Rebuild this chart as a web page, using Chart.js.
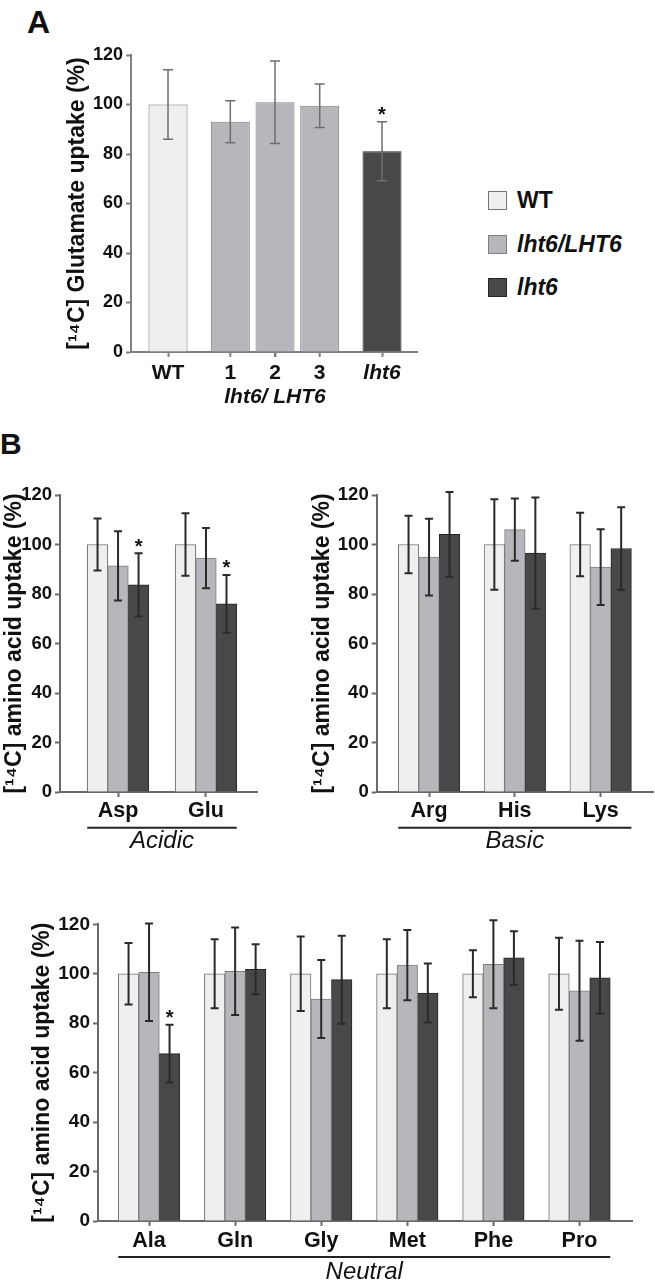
<!DOCTYPE html>
<html>
<head>
<meta charset="utf-8">
<title>Amino acid uptake</title>
<script src="https://cdn.jsdelivr.net/npm/chart.js@4.4.1/dist/chart.umd.min.js"></script>
<style>
  body { margin: 0; background: #fff; }
  #page { position: relative; width: 655px; height: 1280px; overflow: hidden;
          font-family: "Liberation Sans", Arial, Helvetica, sans-serif; color: #111; }
  canvas { position: absolute; }
  .panel { position: absolute; font-weight: bold; line-height: 1; }
  .legend { position: absolute; left: 488px; top: 179px; }
  .legend .row { display: flex; align-items: center; height: 43.5px; font-size: 23px; font-weight: bold; }
  .legend .box { width: 17px; height: 17px; margin-right: 10px; border: 1px solid; }
</style>
</head>
<body>
<div id="page">
  <div class="panel" style="left:27px; top:6px; font-size:32px;">A</div>
  <div class="panel" style="left:0px; top:429px; font-size:30px;">B</div>

  <canvas id="chartA" width="440" height="420" style="left:0; top:0;"></canvas>
  <div class="legend" id="legend"></div>

  <canvas id="chartAcidic" width="300" height="410" style="left:0; top:460px;"></canvas>
  <canvas id="chartBasic" width="355" height="410" style="left:300px; top:460px;"></canvas>
  <canvas id="chartNeutral" width="655" height="390" style="left:0; top:890px;"></canvas>
</div>

<script>
// ---- data ----
const genotypes = ['WT', 'lht6/LHT6', 'lht6'];

// A: glutamate uptake, WT, three complemented lines, mutant
const groupsA = ['WT', 'lht6/ LHT6', 'lht6'];
const linesA = ['WT', '1', '2', '3', 'lht6'];
const lineGroupA = [0, 1, 1, 1, 2];
const glutamate = [100, 93.0, 100.9, 99.5, 81.1];
const glutamateSd = [14.0, 8.5, 16.7, 8.8, 11.9];
const glutamateSig = [false, false, false, false, true];

// B: acidic
const acidic = ['Asp', 'Glu'];
const acidicWT = [100, 100];
const acidicWTSd = [10.5, 12.6];
const acidicComp = [91.4, 94.5];
const acidicCompSd = [14.0, 12.2];
const acidicMut = [83.7, 76.0];
const acidicMutSd = [12.8, 11.7];
const acidicSig = [true, true];

// B: basic
const basic = ['Arg', 'His', 'Lys'];
const basicWT = [100, 100, 100];
const basicWTSd = [11.6, 18.3, 12.8];
const basicComp = [94.9, 106.0, 90.9];
const basicCompSd = [15.5, 12.6, 15.3];
const basicMut = [104.1, 96.5, 98.4];
const basicMutSd = [17.1, 22.5, 16.7];
const basicSig = [false, false, false];

// B: neutral
const neutral = ['Ala', 'Gln', 'Gly', 'Met', 'Phe', 'Pro'];
const neutralWT = [100, 100, 100, 100, 100, 100];
const neutralWTSd = [12.4, 14.0, 15.1, 14.0, 9.5, 14.6];
const neutralComp = [100.6, 101.0, 89.8, 103.5, 103.8, 93.1];
const neutralCompSd = [19.7, 17.7, 15.8, 14.2, 17.8, 20.2];
const neutralMut = [67.7, 101.8, 97.6, 92.2, 106.4, 98.3];
const neutralMutSd = [11.7, 10.1, 17.8, 11.9, 10.8, 14.5];
const neutralSig = [true, false, false, false, false, false];

const yTicks = [0, 20, 40, 60, 80, 100, 120];

// ---- look ----
const FONT = '"Liberation Sans", Arial, Helvetica, sans-serif';
const fills = ['#efeff0', '#b6b7ba', '#48484b'];
const edges = ['#737373', '#7e7e7e', '#262626'];

Chart.defaults.font.family = FONT;
Chart.defaults.color = '#111';

// legend (html)
var legendEl = document.getElementById('legend');
genotypes.forEach(function (g, i) {
  var row = document.createElement('div');
  row.className = 'row';
  row.innerHTML = '<span class="box" style="background:' + fills[i] + ';border-color:' + edges[i] + '"></span>' +
    '<span style="font-style:' + (i === 0 ? 'normal' : 'italic') + '">' + g + '</span>';
  legendEl.appendChild(row);
});

// category scale with less than half a category of slack at the ends
function padCategories(left, right) {
  return function (scale) {
    scale._startValue = -left;
    scale._valueRange = scale.ticks.length - 1 + left + right;
  };
}

const errorBars = {
  id: 'errorBars',
  afterDatasetsDraw(chart, args, opts) {
    const ctx = chart.ctx;
    const y = chart.scales.y;
    ctx.save();
    chart.data.datasets.forEach(function (ds, i) {
      chart.getDatasetMeta(i).data.forEach(function (bar, j) {
        const v = ds.data[j];
        if (v === null || v === undefined) return;
        const top = y.getPixelForValue(v + ds.errors[j]);
        const bot = y.getPixelForValue(v - ds.errors[j]);
        ctx.strokeStyle = opts.color;
        ctx.lineWidth = opts.width;
        ctx.beginPath();
        ctx.moveTo(bar.x, top); ctx.lineTo(bar.x, bot);
        ctx.moveTo(bar.x - opts.cap, top); ctx.lineTo(bar.x + opts.cap, top);
        ctx.moveTo(bar.x - opts.cap, bot); ctx.lineTo(bar.x + opts.cap, bot);
        ctx.stroke();
        if (ds.stars && ds.stars[j]) {
          ctx.fillStyle = '#111';
          ctx.font = 'bold 20px ' + FONT;
          ctx.textAlign = 'center';
          ctx.textBaseline = 'alphabetic';
          ctx.fillText('*', bar.x, top - 0.5);
        }
      });
    });
    ctx.restore();
  }
};

// underline + italic class name under the B charts
const groupLabel = {
  id: 'groupLabel',
  afterDraw(chart, args, opts) {
    if (!opts.text) return;
    const ctx = chart.ctx;
    const n = chart.data.datasets.length;
    const first = chart.getDatasetMeta(0).data[0];
    const lastBars = chart.getDatasetMeta(n - 1).data;
    const last = lastBars[lastBars.length - 1];
    const x0 = first.x - first.width / 2;
    const x1 = last.x + last.width / 2;
    const b = chart.chartArea.bottom;
    ctx.save();
    ctx.strokeStyle = '#222';
    ctx.lineWidth = 2;
    ctx.beginPath();
    ctx.moveTo(x0, b + opts.lineGap); ctx.lineTo(x1, b + opts.lineGap);
    ctx.stroke();
    ctx.fillStyle = '#111';
    ctx.font = 'italic 24px ' + FONT;
    ctx.textAlign = 'center';
    ctx.textBaseline = 'middle';
    ctx.fillText(opts.text, (x0 + x1) / 2, b + opts.textGap);
    ctx.restore();
  }
};

// line numbers 1-3 under the complemented bars of A
const lineTicks = {
  id: 'lineTicks',
  afterDraw(chart, args, opts) {
    const ctx = chart.ctx;
    const b = chart.chartArea.bottom;
    ctx.save();
    ctx.fillStyle = '#111';
    ctx.textAlign = 'center';
    ctx.textBaseline = 'middle';
    chart.data.datasets.forEach(function (ds, i) {
      if (!ds.tickLabel) return;
      const bar = chart.getDatasetMeta(i).data[lineGroupA[i]];
      ctx.strokeStyle = opts.color;
      ctx.lineWidth = 2;
      ctx.beginPath();
      ctx.moveTo(bar.x, b); ctx.lineTo(bar.x, b + 5);
      ctx.stroke();
      ctx.font = 'bold 21px ' + FONT;
      ctx.fillText(ds.tickLabel, bar.x, b + 21.5);
    });
    ctx.font = 'italic bold 21px ' + FONT;
    ctx.fillText(groupsA[1], chart.scales.x.getPixelForValue(1), b + 45);
    ctx.restore();
  }
};

function makeOptions(c) {
  return {
    responsive: false,
    animation: false,
    devicePixelRatio: 1,
    layout: { padding: { top: c.top, right: c.right, left: 0, bottom: 0 } },
    plugins: {
      legend: { display: false },
      tooltip: { enabled: false },
      errorBars: { color: c.errColor, width: c.errWidth, cap: c.cap },
      groupLabel: { text: c.group, lineGap: c.lineGap, textGap: c.textGap },
      lineTicks: { color: c.axis }
    },
    scales: {
      x: {
        offset: true,
        grid: { display: true, drawOnChartArea: false, offset: false, tickLength: 5,
                color: c.axis, tickColor: c.axis, tickWidth: 2 },
        border: { display: true, color: c.axis, width: 2 },
        ticks: { font: { size: c.xFont, weight: 'bold' }, color: '#111', padding: c.xPad,
                 maxRotation: 0, autoSkip: false },
        afterFit: function (s) { s.height = c.xHeight; },
        afterBuildTicks: padCategories(c.padL, c.padR)
      },
      y: {
        min: 0,
        max: 120,
        afterBuildTicks: function (s) { s.ticks = yTicks.map(function (v) { return { value: v }; }); },
        grid: { display: true, drawOnChartArea: false, tickLength: 5,
                color: c.axis, tickColor: c.axis, tickWidth: 2 },
        border: { display: true, color: c.axis, width: 2 },
        ticks: { font: { size: c.yFont, weight: 'bold' }, color: '#111', padding: 3 },
        title: { display: true, text: c.title, color: '#111',
                 font: { size: 23, weight: 'bold' }, padding: { top: c.titlePad, bottom: 0 } },
        afterFit: function (s) { s.width = c.yWidth; }
      }
    }
  };
}

// ---- A ----
var dsA = linesA.map(function (name, i) {
  var g = lineGroupA[i];
  return {
    label: name,
    data: groupsA.map(function (x, k) { return k === g ? glutamate[i] : null; }),
    errors: groupsA.map(function (x, k) { return k === g ? glutamateSd[i] : null; }),
    stars: groupsA.map(function (x, k) { return k === g && glutamateSig[i]; }),
    tickLabel: g === 1 ? name : null,
    backgroundColor: fills[g],
    borderColor: edges[g],
    borderWidth: 1,
    skipNull: true,
    categoryPercentage: 1.253,
    barPercentage: 0.872,
    maxBarThickness: 39
  };
});

var optsA = makeOptions({
  top: 55, right: 23, yWidth: 131, xHeight: 68, padL: 0.346, padR: 0.327,
  titlePad: 63.5, title: '[¹⁴C] Glutamate uptake (%)', axis: '#808080',
  xFont: 21, yFont: 18, xPad: 4, errColor: '#6e6e6e', errWidth: 1.5, cap: 5
});
optsA.scales.x.ticks.callback = function (v, i) { return i === 1 ? '' : this.getLabelForValue(v); };
optsA.scales.x.ticks.font = function (c) {
  return { size: 21, weight: 'bold', style: c.index === 2 ? 'italic' : 'normal' };
};

new Chart(document.getElementById('chartA'), {
  type: 'bar',
  data: { labels: groupsA, datasets: dsA },
  options: optsA,
  plugins: [errorBars, lineTicks]
});

// ---- B ----
function genotypeSets(values, errors, sig) {
  return genotypes.map(function (g, i) {
    return {
      label: g,
      data: values[i],
      errors: errors[i],
      stars: i === 2 ? sig : null,
      backgroundColor: fills[i],
      borderColor: edges[i],
      borderWidth: 1,
      barThickness: 20.5
    };
  });
}

const amino = '[¹⁴C] amino acid uptake (%)';

new Chart(document.getElementById('chartAcidic'), {
  type: 'bar',
  data: {
    labels: acidic,
    datasets: genotypeSets([acidicWT, acidicComp, acidicMut],
                           [acidicWTSd, acidicCompSd, acidicMutSd], acidicSig)
  },
  options: makeOptions({
    top: 35, right: 43, yWidth: 60, xHeight: 78, padL: 0.66, padR: 0.58,
    titlePad: 1, title: amino, axis: '#6a6a6a', xFont: 21.5, yFont: 18.5, xPad: 1,
    errColor: '#2a2a2a', errWidth: 2, cap: 4, group: 'Acidic', lineGap: 35.7, textGap: 49.5
  }),
  plugins: [errorBars, groupLabel]
});

new Chart(document.getElementById('chartBasic'), {
  type: 'bar',
  data: {
    labels: basic,
    datasets: genotypeSets([basicWT, basicComp, basicMut],
                           [basicWTSd, basicCompSd, basicMutSd], basicSig)
  },
  options: makeOptions({
    top: 35, right: 2, yWidth: 76.7, xHeight: 78, padL: 0.61, padR: 0.61,
    titlePad: 8.7, title: amino, axis: '#6a6a6a', xFont: 21.5, yFont: 18.5, xPad: 1,
    errColor: '#2a2a2a', errWidth: 2, cap: 4, group: 'Basic', lineGap: 35.7, textGap: 49.5
  }),
  plugins: [errorBars, groupLabel]
});

new Chart(document.getElementById('chartNeutral'), {
  type: 'bar',
  data: {
    labels: neutral,
    datasets: genotypeSets([neutralWT, neutralComp, neutralMut],
                           [neutralWTSd, neutralCompSd, neutralMutSd], neutralSig)
  },
  options: makeOptions({
    top: 34.3, right: 23, yWidth: 98, xHeight: 59, padL: 0.593, padR: 0.61,
    titlePad: 28.7, title: amino, axis: '#6a6a6a', xFont: 21.5, yFont: 19, xPad: 2,
    errColor: '#2a2a2a', errWidth: 2, cap: 4, group: 'Neutral', lineGap: 36, textGap: 51
  }),
  plugins: [errorBars, groupLabel]
});
</script>
</body>
</html>
